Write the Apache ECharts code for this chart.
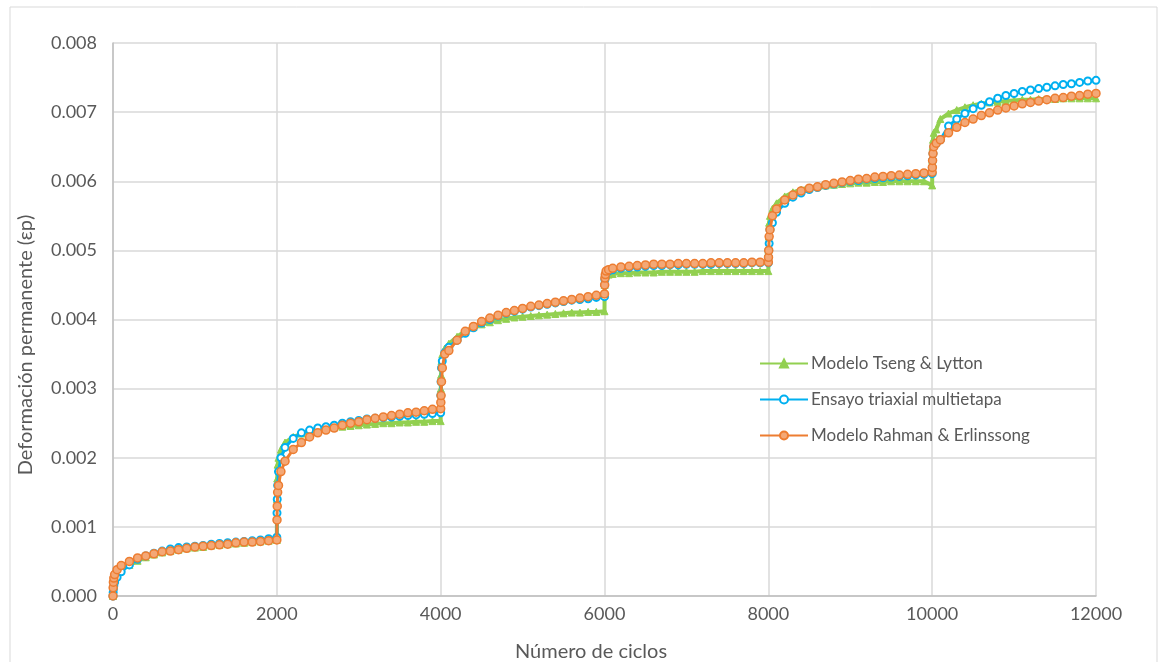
<!DOCTYPE html>
<html>
<head>
<meta charset="utf-8">
<script src="https://cdn.jsdelivr.net/npm/echarts@6/dist/echarts.min.js"></script>
<style>
  html, body { margin: 0; padding: 0; background: #ffffff; }
  #chart { width: 1159px; height: 662px; }
</style>
</head>
<body>
<div id="chart"></div>
<script>
// Número de ciclos (six loading stages of 2000 cycles each)
const cycles = [
  0,
  2, 5, 10, 20, 50, 100, 200, 300, 400, 500, 600, 700, 800, 900, 1000, 1100, 1200, 1300, 1400, 1500, 1600, 1700, 1800, 1900, 2000,
  2002, 2005, 2010, 2020, 2050, 2100, 2200, 2300, 2400, 2500, 2600, 2700, 2800, 2900, 3000, 3100, 3200, 3300, 3400, 3500, 3600, 3700, 3800, 3900, 4000,
  4002, 4005, 4010, 4020, 4050, 4100, 4200, 4300, 4400, 4500, 4600, 4700, 4800, 4900, 5000, 5100, 5200, 5300, 5400, 5500, 5600, 5700, 5800, 5900, 6000,
  6002, 6005, 6010, 6020, 6050, 6100, 6200, 6300, 6400, 6500, 6600, 6700, 6800, 6900, 7000, 7100, 7200, 7300, 7400, 7500, 7600, 7700, 7800, 7900, 8000,
  8002, 8005, 8010, 8020, 8050, 8100, 8200, 8300, 8400, 8500, 8600, 8700, 8800, 8900, 9000, 9100, 9200, 9300, 9400, 9500, 9600, 9700, 9800, 9900, 10000,
  10002, 10005, 10010, 10020, 10050, 10100, 10200, 10300, 10400, 10500, 10600, 10700, 10800, 10900, 11000, 11100, 11200, 11300, 11400, 11500, 11600, 11700, 11800, 11900, 12000
];

// Modelo Tseng & Lytton
const tsengLytton = [
  0,
  0.0001, 0.00016, 0.0002, 0.00025, 0.00031, 0.00037, 0.00045, 0.00051, 0.00056, 0.0006, 0.00063, 0.00065, 0.00067, 0.00069, 0.0007, 0.00071, 0.00073, 0.00074, 0.00075, 0.00076, 0.00077, 0.00078, 0.00079, 0.0008, 0.00081,
  0.0014, 0.0017, 0.0019, 0.002, 0.00212, 0.00222, 0.0023, 0.00235, 0.00238, 0.0024, 0.00242, 0.00244, 0.00245, 0.00246, 0.00247, 0.00248, 0.00249, 0.0025, 0.0025, 0.00251, 0.00251, 0.00252, 0.00252, 0.00253, 0.00253,
  0.003, 0.0032, 0.0034, 0.0035, 0.00358, 0.00365, 0.00375, 0.00383, 0.00389, 0.00393, 0.00396, 0.00399, 0.00401, 0.00403, 0.00404, 0.00405, 0.00406, 0.00407, 0.00408, 0.00409, 0.0041, 0.0041, 0.00411, 0.00411, 0.00412,
  0.0045, 0.0046, 0.00462, 0.00464, 0.00465, 0.00466, 0.00467, 0.00467, 0.00468, 0.00468, 0.00468, 0.00469, 0.00469, 0.00469, 0.00469, 0.00469, 0.0047, 0.0047, 0.0047, 0.0047, 0.0047, 0.0047, 0.0047, 0.0047, 0.0047,
  0.005, 0.0052, 0.0054, 0.0055, 0.0056, 0.00568, 0.00578, 0.00584, 0.00588, 0.00591, 0.00593, 0.00594, 0.00595, 0.00596, 0.00597, 0.00598, 0.00598, 0.00599, 0.00599, 0.006, 0.006, 0.006, 0.006, 0.006, 0.00594,
  0.0063, 0.0065, 0.0066, 0.0067, 0.00675, 0.0069, 0.00698, 0.00703, 0.00707, 0.0071, 0.00712, 0.00714, 0.00715, 0.00716, 0.00717, 0.00718, 0.00718, 0.00719, 0.00719, 0.00719, 0.0072, 0.0072, 0.0072, 0.0072, 0.0072
];

// Ensayo triaxial multietapa
const ensayoTriaxial = [
  0,
  0.00005, 0.0001, 0.00015, 0.0002, 0.00027, 0.00035, 0.00045, 0.00053, 0.00058, 0.00062, 0.00065, 0.00068, 0.0007, 0.00071, 0.00072, 0.00073, 0.00075, 0.00076, 0.00077, 0.00078, 0.00079, 0.0008, 0.00081, 0.00083, 0.00085,
  0.0012, 0.0014, 0.0016, 0.0018, 0.002, 0.00215, 0.00228, 0.00236, 0.0024, 0.00243, 0.00245, 0.00247, 0.0025, 0.00252, 0.00254, 0.00256, 0.00257, 0.00258, 0.00259, 0.0026, 0.00261, 0.00262, 0.00263, 0.00264, 0.00265,
  0.0029, 0.0031, 0.0033, 0.0034, 0.00352, 0.0036, 0.0037, 0.0038, 0.00388, 0.00395, 0.004, 0.00405, 0.00409, 0.00412, 0.00415, 0.00418, 0.0042, 0.00422, 0.00424, 0.00426, 0.00428, 0.00429, 0.0043, 0.00432, 0.00433,
  0.0045, 0.00458, 0.00463, 0.00468, 0.0047, 0.00472, 0.00474, 0.00475, 0.00476, 0.00477, 0.00478, 0.00478, 0.00479, 0.00479, 0.0048, 0.0048, 0.0048, 0.0048, 0.00481, 0.00481, 0.00481, 0.00481, 0.00482, 0.00482, 0.00482,
  0.0049, 0.005, 0.0051, 0.0053, 0.0054, 0.00555, 0.00568, 0.00577, 0.00583, 0.00588, 0.00591, 0.00594, 0.00596, 0.00598, 0.006, 0.00601, 0.00603, 0.00604, 0.00605, 0.00606, 0.00607, 0.00608, 0.00609, 0.0061, 0.00611,
  0.0062, 0.0063, 0.0064, 0.0065, 0.00655, 0.0066, 0.0068, 0.0069, 0.00698, 0.00705, 0.0071, 0.00715, 0.0072, 0.00724, 0.00727, 0.0073, 0.00732, 0.00734, 0.00736, 0.00738, 0.0074, 0.00741, 0.00743, 0.00745, 0.00746
];

// Modelo Rahman & Erlinssong
const rahmanErlinssong = [
  0,
  0.00012, 0.0002, 0.00026, 0.00031, 0.00038, 0.00044, 0.0005, 0.00055, 0.00058, 0.00061, 0.00064, 0.00065, 0.00067, 0.00069, 0.00071, 0.00072, 0.00073, 0.00074, 0.00075, 0.00077, 0.00078, 0.00078, 0.00079, 0.0008, 0.00081,
  0.0011, 0.0013, 0.0015, 0.0016, 0.0018, 0.00195, 0.00212, 0.00222, 0.0023, 0.00236, 0.0024, 0.00243, 0.00247, 0.0025, 0.00252, 0.00255, 0.00257, 0.00259, 0.00261, 0.00263, 0.00265, 0.00266, 0.00268, 0.0027, 0.00271,
  0.0028, 0.0029, 0.0031, 0.0033, 0.0035, 0.00355, 0.0037, 0.00383, 0.0039, 0.00397, 0.00402, 0.00406, 0.0041, 0.00413, 0.00416, 0.00419, 0.00421, 0.00423, 0.00425, 0.00427, 0.00429, 0.00431, 0.00433, 0.00435, 0.00437,
  0.0045, 0.0046, 0.00465, 0.0047, 0.00472, 0.00474, 0.00476, 0.00477, 0.00478, 0.00479, 0.0048, 0.0048, 0.0048, 0.00481, 0.00481, 0.00481, 0.00481, 0.00482, 0.00482, 0.00482, 0.00482, 0.00482, 0.00483, 0.00483, 0.00483,
  0.0049, 0.005, 0.0052, 0.0053, 0.0055, 0.0056, 0.00573, 0.0058, 0.00586, 0.0059, 0.00592, 0.00595, 0.00597, 0.00599, 0.00601, 0.00603, 0.00604, 0.00606, 0.00607, 0.00608, 0.00609, 0.0061, 0.00611, 0.00612, 0.00613,
  0.0062, 0.0063, 0.0064, 0.0065, 0.00655, 0.0066, 0.0067, 0.00678, 0.00685, 0.0069, 0.00695, 0.00699, 0.00703, 0.00706, 0.00709, 0.00712, 0.00714, 0.00716, 0.00718, 0.0072, 0.00721, 0.00723, 0.00724, 0.00726, 0.00727
];

const seriesNames = ['Modelo Tseng & Lytton', 'Ensayo triaxial multietapa', 'Modelo Rahman & Erlinssong'];
const xTicks = [0, 2000, 4000, 6000, 8000, 10000, 12000];
const xTitle = 'Número de ciclos';
const yTitle = 'Deformación permanente (εp)';

const FONT = 'Lato';
const TEXT = '#595959';

function pairs(values) {
  return cycles.map((c, i) => [c, values[i]]);
}

const chart = echarts.init(document.getElementById('chart'), null, { renderer: 'canvas' });

chart.setOption({
  backgroundColor: '#ffffff',
  animation: false,
  textStyle: { fontFamily: FONT, color: TEXT },
  graphic: [
    {
      type: 'rect',
      shape: { x: 10, y: 7, width: 1147, height: 670 },
      style: { fill: 'none', stroke: '#d9d9d9', lineWidth: 1 },
      silent: true,
      z: -1
    },
    {
      // horizontal axis title
      type: 'text',
      x: 591,
      y: 652,
      style: {
        text: xTitle, fontFamily: FONT, fontSize: 20, fill: TEXT,
        align: 'center', verticalAlign: 'middle'
      },
      silent: true
    },
    {
      // vertical axis title
      type: 'text',
      x: 26,
      y: 345,
      rotation: Math.PI / 2,
      style: {
        text: yTitle, fontFamily: FONT, fontSize: 20, fill: TEXT,
        align: 'center', verticalAlign: 'middle'
      },
      silent: true
    }
  ],
  grid: { left: 113, right: 63, top: 43, bottom: 66 },
  legend: {
    orient: 'vertical',
    left: 754,
    top: 350,
    itemWidth: 48,
    itemHeight: 10,
    itemGap: 19,
    data: seriesNames,
    textStyle: { fontFamily: FONT, fontSize: 17, color: TEXT, padding: [0, 0, 0, -2] }
  },
  xAxis: {
    type: 'value',
    min: 0,
    max: 12000,
    interval: 2000,
    axisLine: { show: true, lineStyle: { color: '#bfbfbf', width: 1.5 } },
    axisTick: { show: false },
    axisLabel: {
      fontFamily: FONT, fontSize: 18, color: TEXT, margin: 9,
      formatter: v => (xTicks.includes(v) ? String(v) : '')
    },
    splitLine: { show: true, lineStyle: { color: '#d9d9d9', width: 1.5 } }
  },
  yAxis: {
    type: 'value',
    min: 0,
    max: 0.008,
    interval: 0.001,
    axisLine: { show: true, lineStyle: { color: '#bfbfbf', width: 1.5 } },
    axisTick: { show: false },
    axisLabel: {
      fontFamily: FONT, fontSize: 18, color: TEXT, margin: 16,
      formatter: v => v.toFixed(3)
    },
    splitLine: { show: true, lineStyle: { color: '#d9d9d9', width: 1.5 } }
  },
  series: [
    {
      name: seriesNames[0],
      type: 'line',
      data: pairs(tsengLytton),
      symbol: 'triangle',
      symbolSize: 7,
      color: '#92d050',
      lineStyle: { color: '#92d050', width: 4 },
      itemStyle: { color: '#92d050', borderColor: '#92d050', borderWidth: 1 },
      z: 2
    },
    {
      name: seriesNames[1],
      type: 'line',
      data: pairs(ensayoTriaxial),
      symbol: 'circle',
      symbolSize: 7,
      color: '#00b0f0',
      lineStyle: { color: '#00b0f0', width: 3 },
      itemStyle: { color: '#ffffff', borderColor: '#00b0f0', borderWidth: 2 },
      z: 3
    },
    {
      name: seriesNames[2],
      type: 'line',
      data: pairs(rahmanErlinssong),
      symbol: 'circle',
      symbolSize: 8,
      color: '#ed7d31',
      lineStyle: { color: '#ed7d31', width: 3 },
      itemStyle: { color: '#f4a876', borderColor: '#ed7d31', borderWidth: 1.5 },
      z: 4
    }
  ]
});
</script>
</body>
</html>
